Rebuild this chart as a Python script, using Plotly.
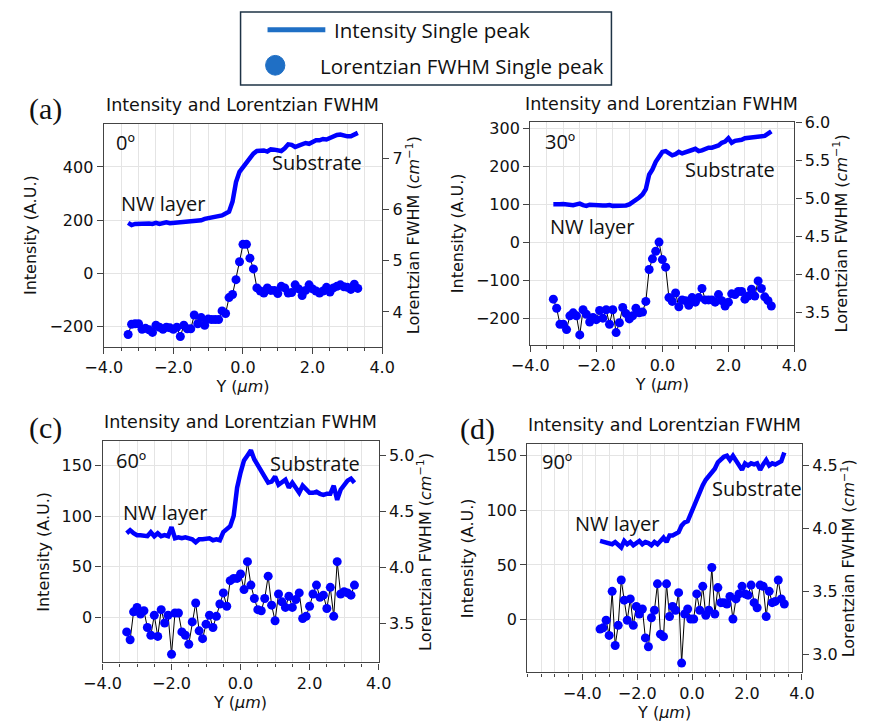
import plotly.graph_objects as go

# ---------------- data ----------------
X = [-3.3, -3.2, -3.1, -3.0, -2.9, -2.8, -2.7, -2.6, -2.5, -2.4,
     -2.3, -2.2, -2.1, -2.0, -1.9, -1.8, -1.7, -1.6, -1.5, -1.4,
     -1.3, -1.2, -1.1, -1.0, -0.9, -0.8, -0.7, -0.6, -0.5, -0.4,
     -0.3, -0.2, -0.1, 0.0, 0.1, 0.2, 0.3, 0.4, 0.5, 0.6,
     0.7, 0.8, 0.9, 1.0, 1.1, 1.2, 1.3, 1.4, 1.5, 1.6,
     1.7, 1.8, 1.9, 2.0, 2.1, 2.2, 2.3, 2.4, 2.5, 2.6,
     2.7, 2.8, 2.9, 3.0, 3.1, 3.2, 3.3]

X_D = [-3.35, -3.24, -3.13, -3.02, -2.91, -2.80, -2.69, -2.58, -2.47, -2.36,
       -2.25, -2.14, -2.03, -1.92, -1.81, -1.70, -1.59, -1.48, -1.37, -1.26,
       -1.15, -1.04, -0.93, -0.82, -0.71, -0.60, -0.49, -0.38, -0.27, -0.16,
       -0.05, 0.06, 0.17, 0.28, 0.39, 0.50, 0.61, 0.72, 0.83, 0.94,
       1.05, 1.16, 1.27, 1.38, 1.49, 1.60, 1.71, 1.82, 1.93, 2.04,
       2.15, 2.26, 2.37, 2.48, 2.59, 2.70, 2.81, 2.92, 3.03, 3.14,
       3.25, 3.36]

INT_A = [190, 182, 186, 187, 187, 186, 188, 186, 190, 186,
         190, 192, 189, 190, 190, 193, 195, 192, 194, 195,
         197, 200, 205, 208, 210, 212, 214, 218, 225, 232,
         270, 343, 382, 400, 415, 430, 450, 460, 462, 462,
         458, 466, 465, 462, 460, 470, 485, 483, 475, 480,
         485, 490, 487, 495, 500, 500, 505, 503, 510, 513,
         520, 522, 518, 515, 515, 520, 528]
FW_A = [3.56, 3.76, 3.77, 3.77, 3.66, 3.68, 3.65, 3.60, 3.74, 3.70,
        3.66, 3.70, 3.69, 3.66, 3.70, 3.52, 3.74, 3.67, 3.67, 3.94,
        3.77, 3.89, 3.74, 3.86, 3.85, 3.85, 3.85, 4.02, 3.97, 4.28,
        4.34, 4.63, 4.98, 5.32, 5.32, 5.05, 4.84, 4.47, 4.41, 4.37,
        4.47, 4.42, 4.42, 4.36, 4.50, 4.47, 4.37, 4.38, 4.53, 4.45,
        4.32, 4.42, 4.53, 4.45, 4.41, 4.37, 4.41, 4.48, 4.39, 4.47,
        4.50, 4.53, 4.49, 4.48, 4.44, 4.54, 4.46]

INT_B = [100, 99, 100, 101, 99, 97, 98, 100, 102, 98,
         96, 99, 98, 97, 98, 97, 97, 98, 96, 96,
         97, 95, 97, 100, 105, 110, 118, 126, 140, 178,
         192, 212, 228, 238, 240, 235, 229, 232, 238, 234,
         238, 240, 243, 246, 240, 242, 247, 249, 249, 252,
         255, 262, 265, 274, 262, 267, 268, 270, 274, 275,
         276, 278, 278, 280, 280, 286, 292]
FW_B = [3.68, 3.56, 3.35, 3.35, 3.28, 3.46, 3.50, 3.46, 3.21, 3.54,
        3.48, 3.38, 3.44, 3.41, 3.53, 3.43, 3.54, 3.35, 3.54, 3.24,
        3.37, 3.57, 3.49, 3.42, 3.46, 3.56, 3.50, 3.51, 3.65, 4.07,
        4.21, 4.31, 4.43, 4.20, 4.10, 3.70, 3.65, 3.76, 3.58, 3.67,
        3.66, 3.60, 3.70, 3.64, 3.70, 3.82, 3.67, 3.67, 3.67, 3.64,
        3.74, 3.66, 3.59, 3.64, 3.75, 3.74, 3.78, 3.78, 3.68, 3.72,
        3.81, 3.72, 3.92, 3.82, 3.71, 3.66, 3.59]

INT_C = [83, 86, 83, 81, 81, 81, 80, 84, 80, 83,
         80, 81, 80, 89, 78, 79, 78, 79, 78, 77,
         74, 77, 77, 77, 78, 76, 77, 76, 84, 87,
         90, 100, 128, 143, 155, 160, 165, 156, 150, 144,
         138, 133, 134, 139, 131, 133, 136, 128, 133, 128,
         123, 130, 127, 123, 123, 124, 122, 121, 122, 122,
         130, 116, 126, 130, 135, 137, 133]
FW_C = [3.42, 3.35, 3.60, 3.64, 3.58, 3.61, 3.46, 3.39, 3.57, 3.38,
        3.62, 3.50, 3.57, 3.22, 3.59, 3.59, 3.42, 3.39, 3.31, 3.51,
        3.68, 3.43, 3.36, 3.49, 3.57, 3.46, 3.56, 3.67, 3.77, 3.65,
        3.88, 3.90, 3.90, 3.94, 3.80, 4.05, 3.84, 3.72, 3.62, 3.61,
        3.72, 3.92, 3.66, 3.52, 3.76, 3.69, 3.64, 3.74, 3.64, 3.71,
        3.77, 3.54, 3.56, 3.65, 3.76, 3.84, 3.73, 3.75, 3.63, 3.82,
        3.56, 4.05, 3.76, 3.78, 3.77, 3.75, 3.84]

INT_D = [72, 71, 70, 70, 69, 71, 68, 66, 72, 69,
         71, 68, 70, 72, 69, 71, 70, 68, 71, 69,
         72, 75, 71, 77, 77, 78, 80, 86, 89, 90,
         97, 103, 110, 117, 123, 128, 131, 134, 138, 144,
         147, 149, 150, 146, 150, 145, 141, 137, 143, 141,
         143, 142, 143, 137, 142, 146, 141, 143, 142, 143,
         145, 153]
FW_D = [3.20, 3.21, 3.27, 3.15, 3.50, 3.07, 3.23, 3.59, 3.43, 3.27,
        3.44, 3.23, 3.38, 3.32, 3.36, 3.13, 3.06, 3.29, 3.35, 3.56,
        3.16, 3.14, 3.56, 3.30, 3.38, 3.35, 3.49, 2.93, 3.32, 3.36,
        3.28, 3.28, 3.48, 3.35, 3.54, 3.31, 3.35, 3.69, 3.32, 3.53,
        3.41, 3.41, 3.40, 3.46, 3.28, 3.44, 3.48, 3.54, 3.48, 3.47,
        3.55, 3.41, 3.37, 3.55, 3.54, 3.30, 3.50, 3.41, 3.42, 3.59,
        3.44, 3.40]

X_TICKS = [-4, -2, 0, 2, 4]
PANEL_TITLE = "Intensity and Lorentzian FWHM"
ANGLES = ["0º", "30º", "60º", "90º"]
LEGEND_NAMES = ["Intensity Single peak", "Lorentzian FWHM Single peak"]

# ---------------- layout helpers ----------------
W, H = 872, 725


def px(x):
    return x / W


def py(y):
    return 1 - y / H


BLUE = "#0000ff"
LEG_BLUE = "#1f6fc5"
AXC = "#444444"
GRID = "#e4e4e4"
TICKFONT = dict(family="DejaVu Sans", size=16, color="#111111")
TITLEFONT = dict(family="DejaVu Sans", size=16, color="#111111")

panels = [
    dict(X=X, I=INT_A, F=FW_A, bx=(88, 377), by=(116, 342), xr=[-4, 4],
         yl=[-275, 563], yr=[3.32, 7.68], dl=200, dr=1, rfmt="d"),
    dict(X=X, I=INT_B, F=FW_B, bx=(530.7, 805), by=(114.3, 340), xr=[-4, 4],
         yl=[-269.5, 317], yr=[3.08, 6.01], dl=100, dr=0.5, rfmt=".1f"),
    dict(X=X, I=INT_C, F=FW_C, bx=(86.7, 373.3), by=(437.7, 661.7), xr=[-4, 4],
         yl=[-45, 174], yr=[3.146, 5.13], dl=50, dr=0.5, rfmt=".1f"),
    dict(X=X_D, I=INT_D, F=FW_D, bx=(527.7, 812.7), by=(440.7, 671.7), xr=[-6, 4],
         yl=[-48.3, 160.5], yr=[2.856, 4.67], dl=50, dr=0.5, rfmt=".1f"),
]

fig = go.Figure()
layout = {}

for i, p in enumerate(panels, start=1):
    xa = "x" if i == 1 else f"x{i}"
    yl = f"y{2 * i - 1}" if i > 1 else "y"
    yr = f"y{2 * i}"
    xkey = "xaxis" if i == 1 else f"xaxis{i}"
    ylkey = "yaxis" if i == 1 else f"yaxis{2 * i - 1}"
    yrkey = f"yaxis{2 * i}"

    fig.add_trace(go.Scatter(x=p["X"], y=p["I"], xaxis=xa, yaxis=yl, mode="lines",
                             name=LEGEND_NAMES[0],
                             line=dict(color=BLUE, width=4.5), showlegend=False,
                             hoverinfo="skip"))
    fig.add_trace(go.Scatter(x=p["X"], y=p["F"], xaxis=xa, yaxis=yr, mode="lines+markers",
                             name=LEGEND_NAMES[1],
                             line=dict(color="black", width=1),
                             marker=dict(color=BLUE, size=9),
                             showlegend=False, hoverinfo="skip"))

    layout[xkey] = dict(
        domain=[px(p["bx"][0]), px(p["bx"][1])], range=p["xr"], anchor=yl,
        tickmode="array", tickvals=X_TICKS,
        ticktext=[f"{v:.1f}".replace("-", "−") for v in X_TICKS],
        ticks="outside", ticklen=6, tickwidth=1.2, tickcolor=AXC,
        showline=True, linecolor=AXC, linewidth=1.3, mirror=True,
        showgrid=True, gridcolor=GRID, gridwidth=1, zeroline=False,
        minor=dict(tickmode="linear", tick0=0, dtick=0.5, ticks="outside", ticklen=3,
                   tickcolor=AXC, showgrid=True, gridcolor=GRID, gridwidth=1),
        tickfont=TICKFONT,
        title=dict(text="Y (<i>µm</i>)", font=TITLEFONT, standoff=2),
    )
    layout[ylkey] = dict(
        domain=[py(p["by"][1]), py(p["by"][0])], range=p["yl"], anchor=xa,
        tickmode="linear", tick0=0, dtick=p["dl"],
        ticks="outside", ticklen=6, tickwidth=1.2, tickcolor=AXC,
        showline=True, linecolor=AXC, linewidth=1.3,
        showgrid=True, gridcolor=GRID, gridwidth=1, zeroline=False,
        tickfont=TICKFONT,
        title=dict(text="Intensity (A.U.)", font=TITLEFONT, standoff=8),
    )
    layout[yrkey] = dict(
        domain=[py(p["by"][1]), py(p["by"][0])], range=p["yr"], anchor=xa,
        overlaying=yl, side="right",
        tickmode="linear", tick0=0, dtick=p["dr"], tickformat=p["rfmt"],
        ticks="outside", ticklen=6, tickwidth=1.2, tickcolor=AXC,
        showline=True, linecolor=AXC, linewidth=1.3,
        showgrid=False, zeroline=False,
        tickfont=TICKFONT,
        title=dict(text="Lorentzian FWHM (<i>cm</i><sup>−1</sup>)", font=TITLEFONT, standoff=6),
    )

ann = []


def text(s, x, y, size, family="Open Sans", xanchor="center"):
    ann.append(dict(text=s, x=px(x), y=py(y), xref="paper", yref="paper", showarrow=False,
                    xanchor=xanchor, yanchor="middle",
                    font=dict(family=family, size=size, color="#111111")))


# panel titles
for cx, cy in [(232, 97), (667, 96), (230, 418), (670, 421)]:
    text(PANEL_TITLE, cx, cy, 17.5, family="DejaVu Sans")

# panel letters
text("(a)", 27, 101, 30, family="Liberation Serif")
text("(c)", 27, 424, 30, family="Liberation Serif")
text("(d)", 476, 425, 30, family="Liberation Serif")

# angle labels
for s, (cx, cy) in zip(ANGLES, [(111, 135), (562, 134), (116, 457), (558, 458)]):
    text(s, cx, cy, 20)

# region labels
for cx, cy in [(150, 197), (595, 220), (152, 510), (621, 521)]:
    text("NW layer", cx, cy, 20)
for cx, cy in [(309, 155), (738, 163), (307, 460), (766, 486)]:
    text("Substrate", cx, cy, 20)

# legend (figure-level key, drawn in paper space)
text(LEGEND_NAMES[0], 325, 21, 20.5, xanchor="left")
text(LEGEND_NAMES[1], 310, 58, 20.5, xanchor="left")
shapes = [
    dict(type="rect", xref="paper", yref="paper", x0=px(230), x1=px(615), y0=py(77), y1=py(3),
         line=dict(color="#1e3346", width=1.5), fillcolor="rgba(0,0,0,0)"),
    dict(type="line", xref="paper", yref="paper", x0=px(258), x1=px(318), y0=py(21), y1=py(21),
         line=dict(color=LEG_BLUE, width=5)),
    dict(type="circle", xref="paper", yref="paper", x0=px(256), x1=px(276), y0=py(67), y1=py(47),
         line=dict(color=LEG_BLUE, width=1), fillcolor=LEG_BLUE),
]

fig.update_layout(
    width=W, height=H, margin=dict(l=0, r=0, t=0, b=0),
    paper_bgcolor="white", plot_bgcolor="white",
    showlegend=False,
    annotations=ann,
    shapes=shapes,
    **layout,
)

fig.write_html("out.html", post_script="document.body.style.margin='0';")
